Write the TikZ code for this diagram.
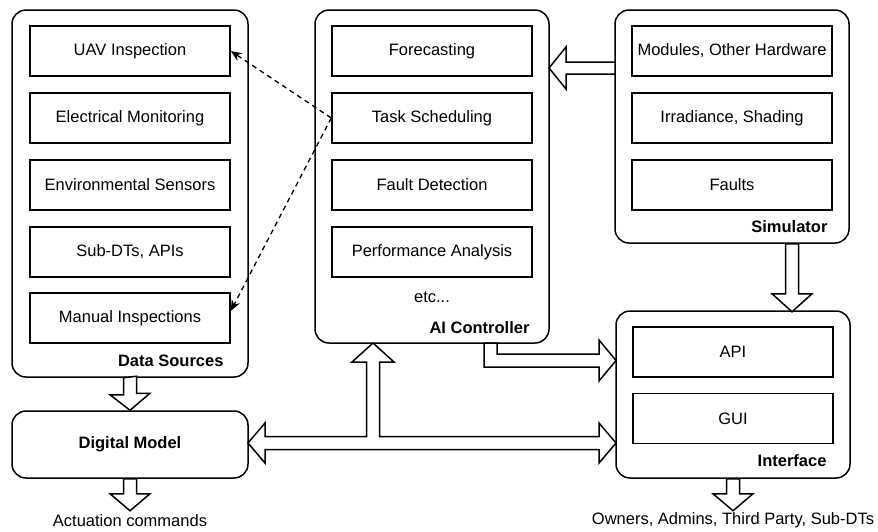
\documentclass[tikz,border=0pt]{standalone}
\usepackage{fontspec}
\setmainfont{Liberation Sans}
\usetikzlibrary{calc, arrows.meta}

\begin{document}
\begin{tikzpicture}[x=1pt, y=1pt,
  every node/.style={font=\fontsize{16.5}{19}\selectfont},
  group/.style={draw, rounded corners=14pt, line width=1.5pt, fill=white, inner sep=0pt},
  item/.style={draw, line width=1.5pt, minimum width=200pt, minimum height=50pt, inner sep=0pt},
  tag/.style={anchor=east, font=\fontsize{16.5}{19}\selectfont\bfseries},
  block/.style={draw, fill=white, line width=1.5pt, line join=miter},
  link/.style={line width=1.3pt, dash pattern=on 5pt off 4pt, -{Stealth[length=11pt, width=9pt]}}]

\useasboundingbox (0,0) rectangle (878,-531);

% data sources
\node[group, minimum width=236pt, minimum height=367pt] (sources) at (130,-193.5) {};
\node[item] (uav)    at (130,-51)  {UAV Inspection};
\node[item] (elec)   at (130,-118) {Electrical Monitoring};
\node[item] (env)    at (130,-185) {Environmental Sensors};
\node[item] (subdt)  at (130,-252) {Sub-DTs, APIs};
\node[item] (manual) at (130,-318) {Manual Inspections};
\node[tag] (sourcestag) at (227,-361) {Data Sources};

% ai controller
\node[group, minimum width=234pt, minimum height=333pt] (ai) at (432,-176.5) {};
\node[item] (fore)  at (432,-51)  {Forecasting};
\node[item] (task)  at (432,-118) {Task Scheduling};
\node[item] (fault) at (432,-185) {Fault Detection};
\node[item] (perf)  at (432,-252) {Performance Analysis};
\node (etc) at (432,-297) {etc...};
\node[tag] (aitag) at (533,-328) {AI Controller};

% simulator
\node[group, minimum width=234pt, minimum height=233pt] (sim) at (732,-126.5) {};
\node[item] (modules) at (732,-51)  {Modules, Other Hardware};
\node[item] (irr)     at (732,-118) {Irradiance, Shading};
\node[item] (faults)  at (732,-185) {Faults};
\node[tag] (simtag) at (831,-227) {Simulator};

% interface
\node[group, minimum width=234pt, minimum height=167pt] (iface) at (733,-394.5) {};
\node[item] (api) at (733,-352)   {API};
\node[item] (gui) at (733,-418.5) {GUI};
\node[tag] (ifacetag) at (830,-461) {Interface};

% digital model
\node[group, minimum width=236pt, minimum height=67pt,
      font=\fontsize{16.5}{19}\selectfont\bfseries] (dm) at (130,-444.5) {Digital Model};

\node (act)   at (130,-521) {Actuation commands};
\node (users) at (733,-520) {Owners, Admins, Third Party, Sub-DTs};

% block arrows
\draw[block] ($(sources.south)+(-6.5,0)$) -- ++(0,-17) -- ++(-13.5,0) -- (dm.north)
  -- ++(20,17) -- ++(-13.5,0) -- ++(0,17) -- cycle;
\draw[block] ($(dm.south)+(-6.5,0)$) -- ++(0,-15) -- ++(-13.5,0) -- ++(20,-17)
  -- ++(20,17) -- ++(-13.5,0) -- ++(0,15) -- cycle;
\draw[block] ($(sim.south)+(53.5,0)$) -- ++(0,-50) -- ++(-13.5,0) -- ++(20,-18)
  -- ++(20,18) -- ++(-13.5,0) -- ++(0,50) -- cycle;
\draw[block] ($(iface.south)+(-6.5,0)$) -- ++(0,-15) -- ++(-13.5,0) -- ++(20,-17)
  -- ++(20,17) -- ++(-13.5,0) -- ++(0,15) -- cycle;
\draw[block] (615,-62) -- (566,-62) -- (566,-47) -- (549,-68) -- (566,-89)
  -- (566,-74) -- (615,-74) -- cycle;
\draw[block] (484,-343) -- (497,-343) -- (497,-354) -- (599,-354) -- (599,-340)
  -- (616,-360.5) -- (599,-381) -- (599,-367) -- (484,-367) -- cycle;
\draw[block] (248,-443) -- (265,-423) -- (265,-436.5) -- (366.5,-436.5) -- (366.5,-362)
  -- (352,-362) -- (373,-343) -- (394,-362) -- (379.5,-362) -- (379.5,-436.5)
  -- (599,-436.5) -- (599,-423) -- (616,-443) -- (599,-463) -- (599,-449.5)
  -- (265,-449.5) -- (265,-463) -- cycle;

% dashed links
\draw[link] (task.west) -- (uav.east);
\draw[link] (task.west) -- ($(manual.east)+(0,7)$);
\end{tikzpicture}
\end{document}
